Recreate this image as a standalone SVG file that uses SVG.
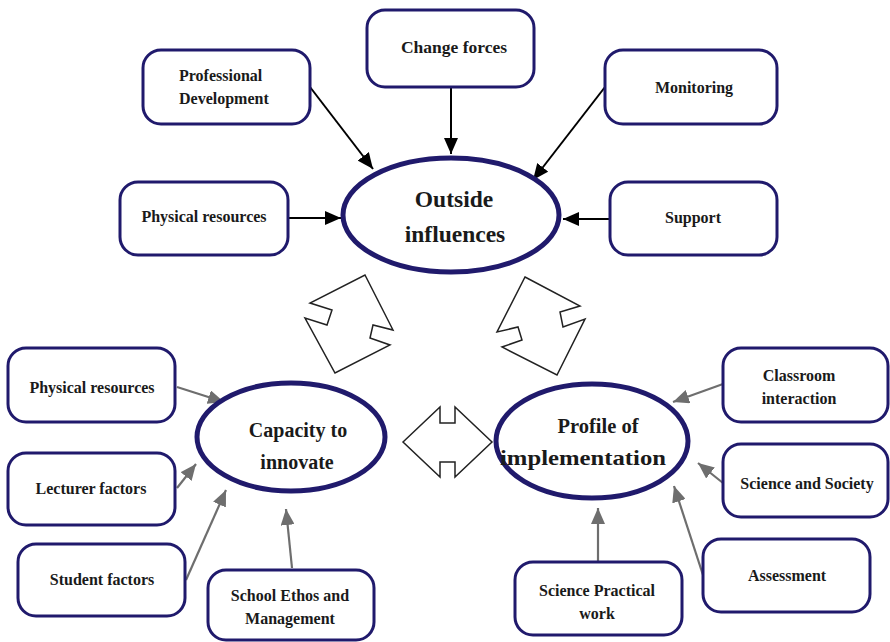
<svg xmlns="http://www.w3.org/2000/svg" width="890" height="642" viewBox="0 0 890 642">
<style>
.box{fill:#fff;stroke:#201a6c;stroke-width:3}
.ell{fill:#fff;stroke:#201a6c;stroke-width:5}
.t{font-family:"Liberation Serif","Times New Roman",serif;font-weight:bold;font-size:16px;fill:#1a1a1a;text-anchor:middle}
.te{font-family:"Liberation Serif","Times New Roman",serif;font-weight:bold;fill:#1a1a1a;text-anchor:middle}
.blk{stroke:#000;stroke-width:2;fill:none;marker-end:url(#ab)}
.gry{stroke:#6e6e6e;stroke-width:2.2;fill:none;marker-end:url(#ag)}
.big{fill:#fff;stroke:#222;stroke-width:1.5;stroke-linejoin:miter}
</style>
<defs>
<marker id="ab" markerWidth="16" markerHeight="14" refX="16" refY="7" orient="auto" markerUnits="userSpaceOnUse"><path d="M0,0 L16,7 L0,14 z" fill="#000"/></marker>
<marker id="ag" markerWidth="16" markerHeight="14" refX="16" refY="7" orient="auto" markerUnits="userSpaceOnUse"><path d="M0,0 L16,7 L0,14 z" fill="#6e6e6e"/></marker>
</defs>
<rect width="890" height="642" fill="#fff"/>
<g id="connectors">
<line class="blk" x1="310" y1="87" x2="373" y2="169"/>
<line class="blk" x1="451" y1="87" x2="451" y2="154"/>
<line class="blk" x1="605" y1="87" x2="533" y2="180"/>
<line class="blk" x1="288" y1="218" x2="341" y2="218"/>
<line class="blk" x1="610" y1="219" x2="563" y2="219"/>
<line class="gry" x1="177" y1="387" x2="224" y2="402"/>
<line class="gry" x1="177" y1="488" x2="196" y2="464"/>
<line class="gry" x1="186" y1="580" x2="226" y2="490"/>
<line class="gry" x1="292" y1="568" x2="286" y2="509"/>
<line class="gry" x1="723" y1="384" x2="673" y2="402"/>
<line class="gry" x1="723" y1="483" x2="698" y2="463"/>
<line class="gry" x1="703" y1="575" x2="674" y2="486"/>
<line class="gry" x1="598" y1="562" x2="598" y2="508"/>
<polygon class="big" points="365,275 393,330 373,325 370,338 390,345 335,373 305,318 327,325 332,310 310,303"/>
<polygon class="big" points="525,277 580,306 560,312 563,327 585,319 557,375 502,347 522,340 518,327 497,332"/>
<polygon class="big" points="403,442 440,407 440,423 455,423 455,407 492,442 455,477 455,462 440,462 440,477"/>
</g>
<g id="outside">
<ellipse class="ell" cx="451" cy="215" rx="108" ry="57"/>
<text class="te" x="454" y="207" font-size="23.5">Outside</text>
<text class="te" x="455" y="242" font-size="23.5">influences</text>
</g>
<g id="capacity">
<ellipse class="ell" cx="291" cy="437" rx="94" ry="54"/>
<text class="te" x="298" y="437" font-size="20">Capacity to</text>
<text class="te" x="297" y="469" font-size="20">innovate</text>
</g>
<g id="profile">
<ellipse class="ell" cx="592" cy="441" rx="96" ry="57"/>
<text class="te" x="598" y="433" font-size="20.5">Profile of</text>
<text class="te" x="583" y="465" font-size="21" textLength="166" lengthAdjust="spacingAndGlyphs">implementation</text>
</g>
<g id="prof-dev">
<rect class="box" x="143" y="50" width="167" height="74" rx="18"/>
<text class="t" x="179" y="81" style="text-anchor:start">Professional</text>
<text class="t" x="179" y="104" style="text-anchor:start">Development</text>
</g>
<g id="change-forces">
<rect class="box" x="367" y="10" width="167" height="77" rx="18"/>
<text class="t" x="454" y="53" style="font-size:17.5px">Change forces</text>
</g>
<g id="monitoring">
<rect class="box" x="605" y="50" width="172" height="74" rx="18"/>
<text class="t" x="694" y="93">Monitoring</text>
</g>
<g id="phys-top">
<rect class="box" x="120" y="182" width="168" height="73" rx="18"/>
<text class="t" x="204" y="222">Physical resources</text>
</g>
<g id="support">
<rect class="box" x="610" y="182" width="167" height="73" rx="18"/>
<text class="t" x="693" y="223">Support</text>
</g>
<g id="phys-left">
<rect class="box" x="8" y="348" width="167" height="74" rx="18"/>
<text class="t" x="92" y="393">Physical resources</text>
</g>
<g id="lecturer">
<rect class="box" x="8" y="453" width="167" height="72" rx="18"/>
<text class="t" x="91" y="494">Lecturer factors</text>
</g>
<g id="student">
<rect class="box" x="18" y="544" width="167" height="72" rx="18"/>
<text class="t" x="102" y="585">Student factors</text>
</g>
<g id="school">
<rect class="box" x="208" y="570" width="166" height="70" rx="18"/>
<text class="t" x="290" y="601">School Ethos and</text>
<text class="t" x="290" y="624">Management</text>
</g>
<g id="classroom">
<rect class="box" x="723" y="348" width="165" height="74" rx="18"/>
<text class="t" x="799" y="381">Classroom</text>
<text class="t" x="799" y="404">interaction</text>
</g>
<g id="society">
<rect class="box" x="723" y="444" width="165" height="73" rx="18"/>
<text class="t" x="807" y="489">Science and Society</text>
</g>
<g id="assessment">
<rect class="box" x="703" y="539" width="167" height="73" rx="18"/>
<text class="t" x="787" y="581">Assessment</text>
</g>
<g id="practical">
<rect class="box" x="515" y="562" width="167" height="73" rx="18"/>
<text class="t" x="597" y="596">Science Practical</text>
<text class="t" x="597" y="619">work</text>
</g>
</svg>
